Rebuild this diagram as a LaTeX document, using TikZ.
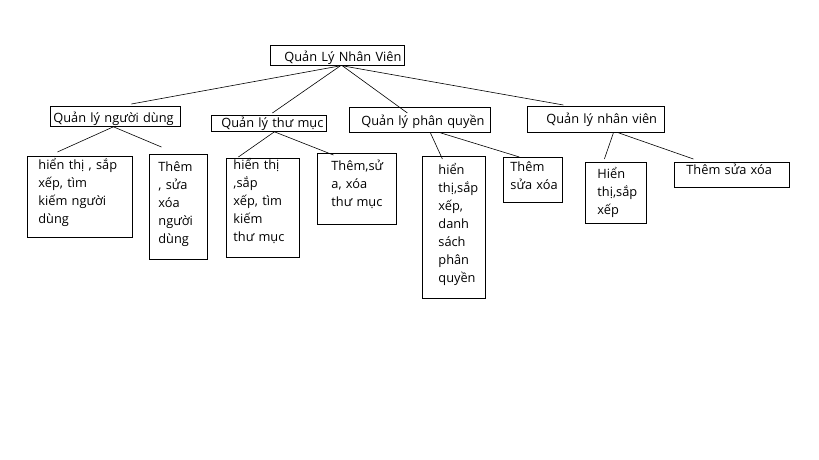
\documentclass[tikz,border=0pt]{standalone}
\usepackage{fontspec}
\setmainfont{Open Sans}
\usepackage{tikz}
\usetikzlibrary{positioning}
\newcommand{\chu}{\fontsize{12.8}{18}\selectfont}

\begin{document}
\begin{tikzpicture}[x=1pt, y=-1pt, line width=0.8pt,
  hop/.style={draw, anchor=north west, align=left, inner ysep=2pt, font=\chu},
  noi/.style={line width=0.6pt}]
  \fill[white] (0,0) rectangle (819,460);
  \useasboundingbox (0,0) rectangle (819,460);
  % goc
  \node[hop, inner xsep=14pt, text width=106pt, text height=14pt, text depth=2pt] (goc) at (270,45) {Quản~Lý~Nhân~Viên};
  % nhanh
  \node[hop, inner xsep=3pt, text width=124pt, text height=14pt, text depth=2pt] (nd) at (50,106) {Quản~lý~người~dùng};
  \node[hop, inner xsep=10pt, text width=95pt, text height=10pt, text depth=2pt] (tm) at (211,115) {Quản~lý~thư~mục};
  \node[hop, inner xsep=12pt, text width=117pt, text height=16pt, text depth=5pt] (pq) at (349,107) {Quản~lý~phân~quyền};
  \node[hop, inner xsep=19pt, text width=99pt, text height=15pt, text depth=7pt] (nv) at (527,106) {Quản~lý~nhân~viên};
  % la
  \node[hop, inner xsep=11pt, text width=83pt, text height=11pt, text depth=66pt] (nd1) at (27,156) {hiển~thị~,~sắp\\xếp,~tìm\\kiếm~người\\dùng};
  \node[hop, inner xsep=9pt, text width=40pt, text height=15pt, text depth=86pt] (nd2) at (149,154) {Thêm\\,~sửa\\xóa\\người\\dùng};
  \node[hop, inner xsep=7pt, text width=59pt, text height=9pt, text depth=86pt] (tm1) at (226,158) {hiển~thị\\,sắp\\xếp,~tìm\\kiếm\\thư~mục};
  \node[hop, inner xsep=14pt, text width=51pt, text height=15pt, text depth=52pt] (tm2) at (317,153) {Thêm,sử\\a,~xóa\\thư~mục};
  \node[hop, inner xsep=16pt, text width=31pt, text height=16pt, text depth=122pt] (pq1) at (422,156) {hiển\\thị,sắp\\xếp,\\danh\\sách\\phân\\quyền};
  \node[hop, inner xsep=7pt, text width=45pt, text height=12pt, text depth=29pt] (pq2) at (503,157) {Thêm\\sửa~xóa};
  \node[hop, inner xsep=12pt, text width=37pt, text height=14pt, text depth=43pt] (nv1) at (585,162) {Hiển\\thị,sắp\\xếp};
  \node[hop, inner xsep=12pt, text width=91pt, text height=10pt, text depth=11pt] (nv2) at (674,162) {Thêm~sửa~xóa};
  % duong noi
  \foreach \a/\sa/\b/\sx/\sy in {goc/3/nd/16/2, goc/3/tm/3.5/2, goc/5/pq/-12.5/-6, goc/5/nv/-32.5/1,
      nd/-2/nd1/-22.5/4, nd/-2/nd2/-17/7, tm/5.5/tm1/-24.5/1, tm/5.5/tm2/-23.5/-2,
      pq/10.5/pq1/-11.5/-3, pq/20.5/pq2/-13.5/0, nv/17.5/nv1/-11.5/3, nv/22.5/nv2/-38.5/3}
    \draw[noi] ([xshift=\sa pt]\a.south) -- ([xshift=\sx pt, yshift=\sy pt]\b.north);
\end{tikzpicture}
\end{document}
